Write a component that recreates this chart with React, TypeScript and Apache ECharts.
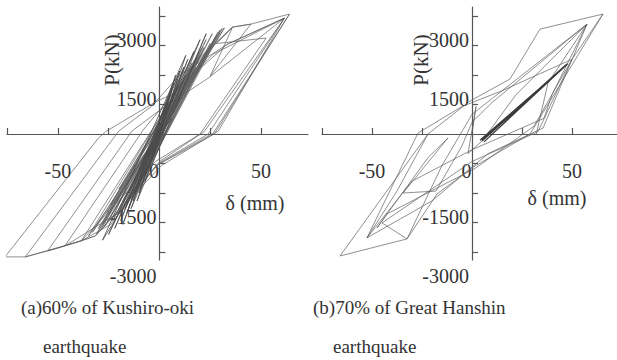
import React, { useEffect, useRef } from "react";
import * as echarts from "echarts";

// ---------- data (δ in mm, P in kN) ----------
const xTickValues = [-75, -50, -25, 25, 50];
const xLabelValues = [-50, 0, 50];
const yTickValues = [-3000, -2250, -1500, -750, 750, 1500, 2250, 3000];
const yLabelValues = [-3000, -1500, 1500, 3000];

const kushiroOuter = [
  [0, 0], [6, 900], [20, 1950], [36, 2718], [45, 2794], [64, 3050],
  [27, 0], [-1, -790], [-18, -1800], [-31.5, -2591], [-38.5, -2718], [-46.5, -2845], [-55, -2972], [-66, -3124], [-76, -3124],
  [-30, -102], [-26, 76], [-2, 813], [6.5, 1016], [26.5, 2032], [61.5, 2946],
  [24, 0], [-1, -760], [-24, -2300], [-38.5, -2718], [-66, -3124],
  [-20, 76], [-4, 700], [10, 1500], [33.5, 2286], [61.5, 2946],
  [29, 76], [1, -800], [-31.5, -2591], [-50, -2900], [-55, -2972],
  [-13.5, 76], [0, 600], [24, 1420], [61.5, 2946],
];
const kushiroRight = [
  [64, 3050], [26.5, 25], [-1, -780], [-20, -2000], [-46.5, -2845],
  [-8, 100], [8, 1100], [20, 1900], [36, 2718], [45, 2794], [25, 1473], [36, 2718],
  [28, 2300], [52.5, 2440], [20, 0], [-2, -700], [-38.5, -2718],
  [-5, 0], [12, 1300], [33.5, 2286], [61.5, 2946], [22, 60], [0, -700],
];
const kushiroInner = [
  [0, 0], [3, 500], [-2, -300], [5, 700], [-4, -500], [8, 1000], [-6, -700], [12, 1200], [-9, -1000], [15, 1500],
  [-12, -1200], [18, 1700], [-5, -900], [20, 2000], [-15, -1500], [22, 2200], [-18, -1700], [25, 2300], [-20, -1900],
  [28, 2500], [-8, -1100], [30, 2650], [-22, -2100], [14, 1400], [-25, -2200], [32, 2700], [-28, -2300], [10, 900],
  [-30, -2400], [24, 2100], [-14, -1600], [27, 2400], [-33, -2500], [6, 400], [-26, -2000], [18, 1900], [-10, -1300],
  [21, 2200], [-35, -2600], [4, 300], [-20, -1400], [16, 1700], [-6, -500], [2, 200],
];
const kushiroInner2 = [
  [-2, -200], [7, 900], [-3, -600], [11, 1300], [-7, -1000], [16, 1800], [-11, -1400], [19, 2000], [-16, -1800],
  [23, 2400], [-19, -2000], [26, 2550], [-23, -2200], [29, 2600], [-27, -2350], [31, 2690], [-12, -1500], [9, 1200],
  [-29, -2450], [17, 1600], [-24, -1800], [13, 1500], [-17, -1900], [26, 2300], [-31, -2550], [3, 600], [-21, -1700],
  [11, 1000], [-8, -700], [1, 100],
];
const kushiroInner3 = [
  [1, 300], [-4, -700], [6, 1100], [-7, -1200], [9, 1400], [-10, -1500], [4, 800], [-13, -1700], [12, 1700],
  [-3, -400], [14, 1900], [-16, -2000], [7, 1300], [-19, -2200], [10, 1600], [-22, -2400], [17, 2100], [-9, -1300],
  [20, 2400], [-25, -2550], [2, 400], [-14, -1900], [23, 2550], [-11, -1700], [13, 2000], [-28, -2700], [-5, -800],
  [8, 1500], [-18, -2300], [0, 200],
];

const hanshinBig = [
  [-22, 0], [-1, 838], [19, 1397], [34, 2667], [65.5, 3050], [29, 0], [0, -860],
  [-17.5, -1524], [-32.5, -2667], [-66, -3100], [-22, 0],
];
const hanshinMid = [
  [0, 0], [2, 700], [-2, -500], [5, -178], [22, 1000], [57.5, 2794], [35.5, 152], [8, -500], [-20, -1700],
  [-52.5, -2640], [-27, 25], [-5, 700], [15, 1100], [50, 1900], [31, 200], [2, -860], [-42.5, -2032],
  [-47.5, -2388], [-22, -600], [-12, -100], [-34.5, -1500], [-18, -1450], [-5, -300], [0, 300], [10, 800],
  [57.5, 2794], [40, 1000], [36, 400], [0, -400], [-30, -1200], [-52.5, -2640], [-37.5, -1450], [-22, 0],
];
const hanshinFan = [
  [65.5, 3050], [50, 1900], [33, 60], [0, -700], [-45, -2260], [-32.5, -2667], [-15, -800], [0, 500],
  [57.5, 2794], [38, 1300], [32, -30],
];
const hanshinCore = [
  [5, -178], [47.5, 1778], [5, -150], [47, 1760], [6, -200], [48, 1790], [4, -160], [47.5, 1770], [5, -178],
];

const titleA = ["(a)60% of Kushiro-oki", "earthquake"];
const titleB = ["(b)70% of Great Hanshin", "earthquake"];
const axisNameX = "δ (mm)";
const axisNameY = "P(kN)";

const FONT = "Liberation Serif, Times New Roman, serif";
const TEXT = "#333";
const LINE = "#606060";

export default function App() {
  const ref = useRef<HTMLDivElement>(null);
  useEffect(() => {
    if (!ref.current) return;
    const chart = echarts.init(ref.current, null, { renderer: "svg" });

    const grids = [
      { left: 7, top: 7, width: 301, height: 253, containLabel: false, outerBoundsMode: "none" },
      { left: 322, top: 7, width: 295, height: 253, containLabel: false, outerBoundsMode: "none" },
    ];
    const xRanges = [[-75, 73.1], [-75, 72.5]];
    const yRange = [-3203, 3229];

    const xAxes = grids.map((g, i) => ({
      type: "value",
      gridIndex: i,
      min: xRanges[i][0],
      max: xRanges[i][1],
      position: "bottom",
      offset: -(g.height * (-yRange[0]) / (yRange[1] - yRange[0])),
      splitLine: { show: false },
      axisLine: { onZero: false, lineStyle: { color: "#555", width: 1.2 } },
      axisTick: { show: true, inside: true, length: 6, customValues: xTickValues, lineStyle: { color: "#555", width: 1.2 } },
      axisLabel: {
        customValues: xLabelValues,
        margin: 27,
        hideOverlap: false,
        showMinLabel: true,
        showMaxLabel: true,
        color: TEXT,
        fontFamily: FONT,
        fontSize: 20,
        formatter: (v: number) => (v === 0 ? "{z|0}" : String(v)),
        rich: { z: { padding: [0, 11, 0, 0], fontFamily: FONT, fontSize: 20, color: TEXT } },
      },
    }));
    const yAxes = grids.map((g, i) => ({
      type: "value",
      gridIndex: i,
      min: yRange[0],
      max: yRange[1],
      position: "left",
      offset: -(g.width * (-xRanges[i][0]) / (xRanges[i][1] - xRanges[i][0])),
      splitLine: { show: false },
      axisLine: { onZero: false, lineStyle: { color: "#555", width: 1.2 } },
      axisTick: { show: true, inside: true, length: 6, customValues: yTickValues, lineStyle: { color: "#555", width: 1.2 } },
      axisLabel: {
        customValues: yLabelValues,
        margin: 3,
        hideOverlap: false,
        showMinLabel: true,
        showMaxLabel: true,
        color: TEXT,
        fontFamily: FONT,
        fontSize: 20,
        lineHeight: 48,
        verticalAlign: "top",
        formatter: (v: number) => String(v),
      },
    }));

    const mk = (data: number[][], idx: number, width = 0.7, color = LINE) => ({
      type: "line",
      xAxisIndex: idx,
      yAxisIndex: idx,
      data,
      showSymbol: false,
      symbol: "none",
      silent: true,
      lineStyle: { color, width },
    });

    const series = [
      mk(kushiroOuter, 0),
      mk(kushiroRight, 0),
      mk(kushiroInner, 0),
      mk(kushiroInner2, 0),
      mk(kushiroInner3, 0, 0.8, "#4a4a4a"),
      mk(hanshinBig, 1),
      mk(hanshinMid, 1),
      mk(hanshinFan, 1),
      mk(hanshinCore, 1, 1.2, "#3a3a3a"),
    ];

    const txt = (text: string, x: number, y: number, extra: any = {}) => ({
      type: "text",
      x,
      y,
      silent: true,
      style: { text, fill: TEXT, font: `19px ${FONT}`, textVerticalAlign: "middle", ...extra },
    });

    chart.setOption({
      animation: false,
      backgroundColor: "#ffffff",
      grid: grids,
      xAxis: xAxes,
      yAxis: yAxes,
      series,
      graphic: [
        txt(axisNameX, 255, 203, { font: `20px ${FONT}`, textAlign: "center" }),
        txt(axisNameX, 557, 198, { font: `20px ${FONT}`, textAlign: "center" }),
        { type: "text", x: 112, y: 60, rotation: Math.PI / 2, silent: true,
          style: { text: axisNameY, fill: TEXT, font: `21px ${FONT}`, textAlign: "center", textVerticalAlign: "middle" } },
        { type: "text", x: 421, y: 60, rotation: Math.PI / 2, silent: true,
          style: { text: axisNameY, fill: TEXT, font: `21px ${FONT}`, textAlign: "center", textVerticalAlign: "middle" } },
        txt(titleA[0], 21, 307),
        txt(titleA[1], 43, 346),
        txt(titleB[0], 313, 307),
        txt(titleB[1], 333, 346),
      ],
    });
    return () => chart.dispose();
  }, []);
  return <div ref={ref} style={{ position: "fixed", left: 0, top: 0, width: 617, height: 360 }} />;
}
